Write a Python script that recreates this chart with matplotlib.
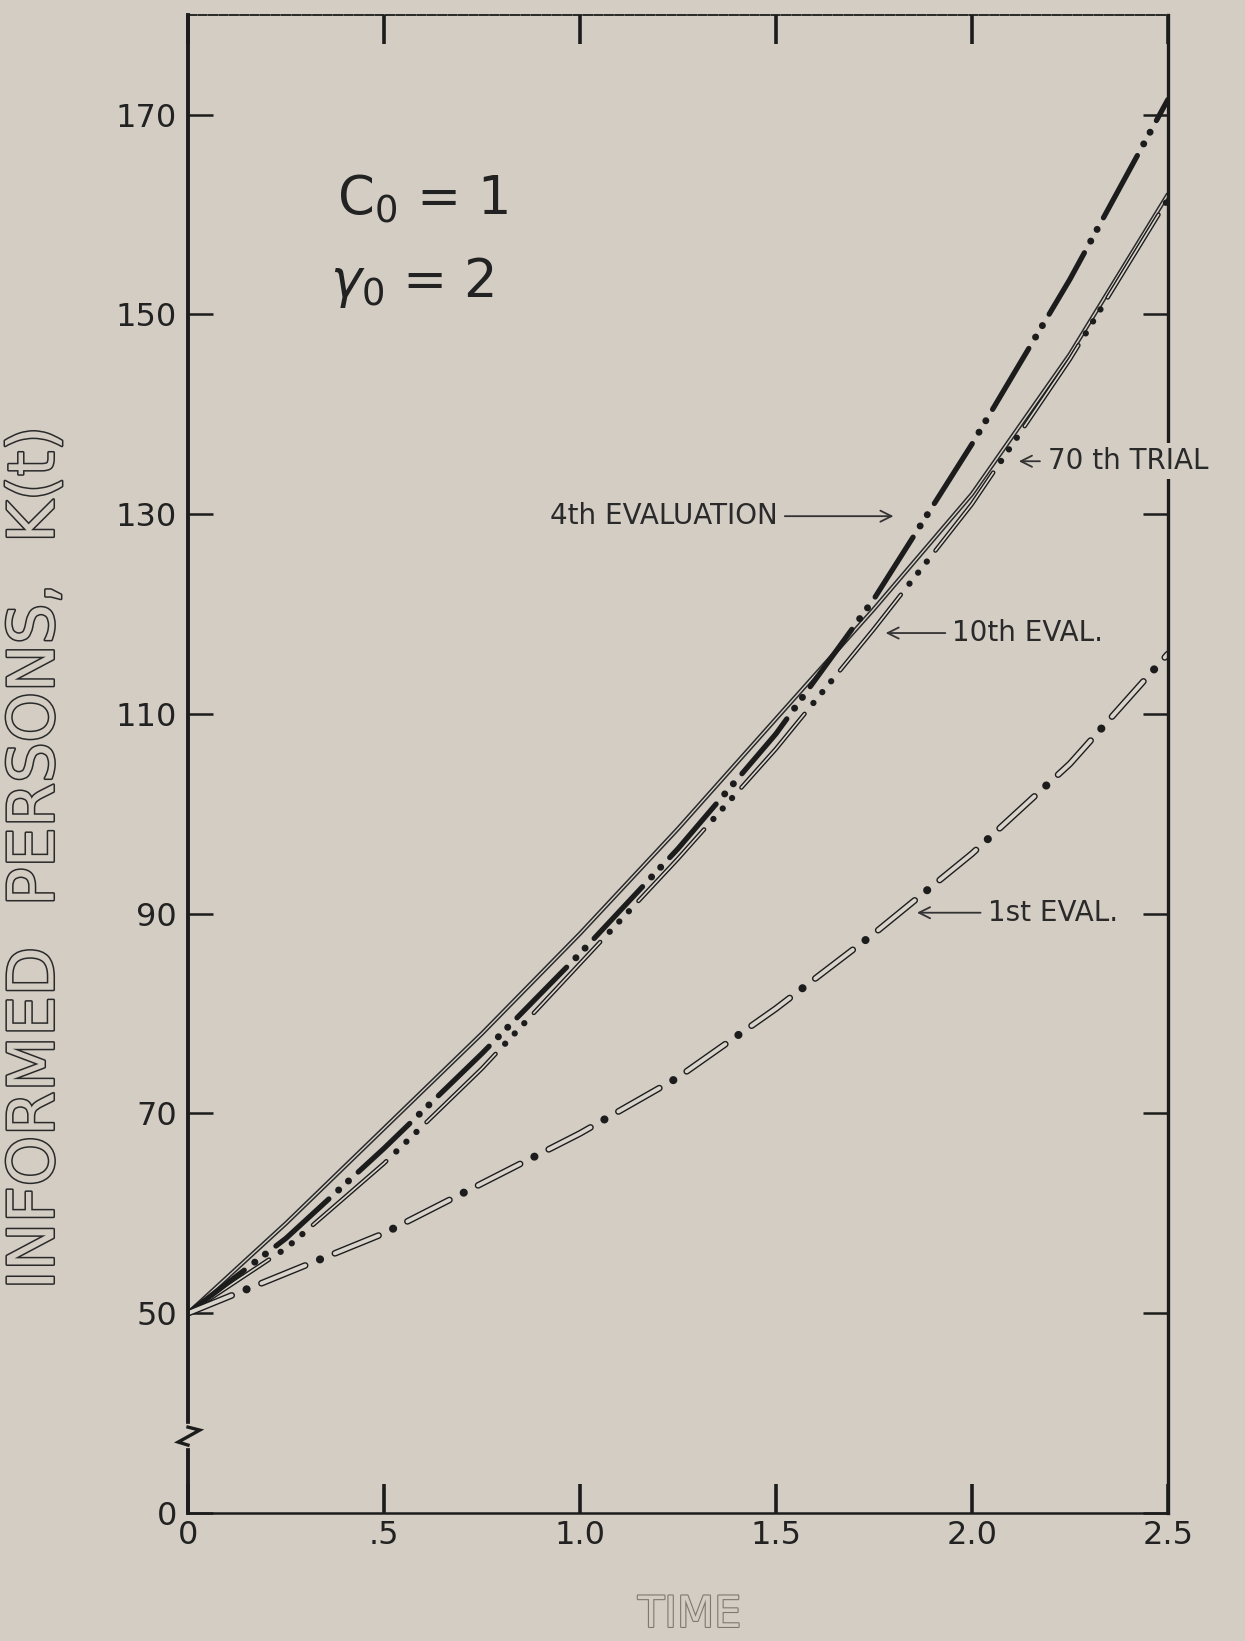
import numpy as np
import matplotlib.pyplot as plt
from matplotlib import patheffects as pe

plt.rcParams['lines.scale_dashes'] = False
plt.rcParams['font.family'] = ['DejaVu Sans']

# values (K(t) vs time)
time = [0, 0.25, 0.5, 0.75, 1.0, 1.25, 1.5, 1.75, 2.0, 2.25, 2.5]
trial_70 = [50, 59, 68.5, 78, 88, 98.5, 109.5, 120.5, 132, 146, 162]
eval_4 = [50, 57.5, 66.5, 76, 86, 96.5, 108, 121.5, 137, 153.5, 171.5]
eval_10 = [50, 56.5, 65, 74.5, 85, 95.5, 106.5, 118.5, 131, 145.5, 161.5]
eval_1 = [50, 54, 58, 63, 68, 73.6, 80.5, 88, 96, 105, 116]

# broken y axis: the "0" sits where 30 would be
y_ticks = [30, 50, 70, 90, 110, 130, 150, 170]
y_tick_labels = ['0', '50', '70', '90', '110', '130', '150', '170']
x_ticks = [0, 0.5, 1.0, 1.5, 2.0, 2.5]
x_tick_labels = ['0', '.5', '1.0', '1.5', '2.0', '2.5']

bg = '#d3cdc4'
ink = '#1c1c1c'

fig = plt.figure(figsize=(12.45, 16.41), dpi=100, facecolor=bg)
ax = fig.add_axes([0.151, 0.078, 0.787, 0.913])
ax.set_facecolor(bg)


def patterned(t, v, dash, gap, ndots, lw, dot_lw, hollow):
    # long dash followed by ndots dots, drawn as separate passes
    period = dash + (ndots + 1) * gap + ndots * 0.1
    kw = dict(dash_capstyle='round', solid_capstyle='round')
    if hollow:
        ax.plot(t, v, ls=(0, (dash, period - dash)), lw=lw - 2.0, color='#d9d4cc',
                path_effects=[pe.Stroke(linewidth=lw, foreground=ink), pe.Normal()], **kw)
    else:
        ax.plot(t, v, ls=(0, (dash, period - dash)), lw=lw, color=ink, **kw)
    for i in range(ndots):
        p = dash + (i + 1) * gap + i * 0.1
        ax.plot(t, v, ls=(period - p, (0.1, period - 0.1)), lw=dot_lw, color=ink, **kw)


ax.plot(time, trial_70, color='#d6d1c9', lw=1.0, solid_capstyle='round',
        path_effects=[pe.Stroke(linewidth=3.2, foreground='#2a2a2a'), pe.Normal()])
patterned(time, eval_10, 70, 10, 3, 3.2, 4.5, True)
patterned(time, eval_4, 51, 9.5, 2, 3.8, 5.0, False)
patterned(time, eval_1, 34, 11.5, 1, 4.8, 5.8, True)

ax.set_xlim(0, 2.5)
ax.set_ylim(30, 180)
ax.set_xticks(x_ticks)
ax.set_xticklabels(x_tick_labels)
ax.set_yticks(y_ticks)
ax.set_yticklabels(y_tick_labels)
ax.tick_params(axis='x', direction='in', length=21, width=2.6, color=ink,
               top=True, labelsize=23, labelcolor='#222', pad=5)
ax.tick_params(axis='y', direction='in', length=18, width=1.8, color=ink,
               right=True, labelsize=23, labelcolor='#222', pad=8)

for side, w in [('left', 2.8), ('right', 2.4), ('bottom', 1.8), ('top', 1.3)]:
    ax.spines[side].set_linewidth(w)
    ax.spines[side].set_color(ink)
ax.spines['top'].set_linestyle((0, (6, 1.5)))

# break mark on the y axis
yb = ax.get_yaxis_transform()
ax.plot([0, 0], [36.9, 38.5], transform=yb, color=bg, lw=6, clip_on=False, zorder=3)
ax.plot([0, 0.012, -0.010, 0], [38.6, 38.3, 37.1, 36.8], transform=yb, color=ink,
        lw=2.4, clip_on=False, zorder=4, solid_joinstyle='miter')

outline = [pe.withStroke(linewidth=2.2, foreground='#2a2a2a')]
ax.set_ylabel('INFORMED  PERSONS,  K(t)', fontsize=46, color=bg, path_effects=outline)
ax.yaxis.set_label_coords(-0.124, 0.437)
ax.set_xlabel('TIME', fontsize=31, color=bg,
              path_effects=[pe.withStroke(linewidth=1.6, foreground='#7d7870')])
ax.xaxis.set_label_coords(0.512, -0.054)

ax.text(0.152, 0.877, r'$\mathrm{C}_0$ = 1', transform=ax.transAxes, fontsize=38,
        ha='left', va='center', color='#222')
ax.text(0.145, 0.821, r'$\gamma_0$ = 2', transform=ax.transAxes, fontsize=38,
        ha='left', va='center', color='#222')

arrow = dict(arrowstyle='->', lw=1.3, color='#333', shrinkA=3, shrinkB=0)
lab = dict(fontsize=20, color='#2a2a2a', va='center')
ax.annotate('4th EVALUATION', xy=(1.80, 129.8), xytext=(1.505, 129.8),
            ha='right', arrowprops=arrow, **lab)
ax.annotate('70 th TRIAL', xy=(2.12, 135.3), xytext=(2.195, 135.3), ha='left',
            arrowprops=arrow, annotation_clip=False, zorder=5,
            bbox=dict(boxstyle='square,pad=0.15', fc=bg, ec='none'), **lab)
ax.annotate('10th EVAL.', xy=(1.78, 118.1), xytext=(1.95, 118.1), ha='left',
            arrowprops=arrow, **lab)
ax.annotate('1st EVAL.', xy=(1.86, 90.1), xytext=(2.04, 90.1), ha='left',
            arrowprops=arrow, **lab)

fig.savefig('out.png', dpi=100, facecolor=bg)
